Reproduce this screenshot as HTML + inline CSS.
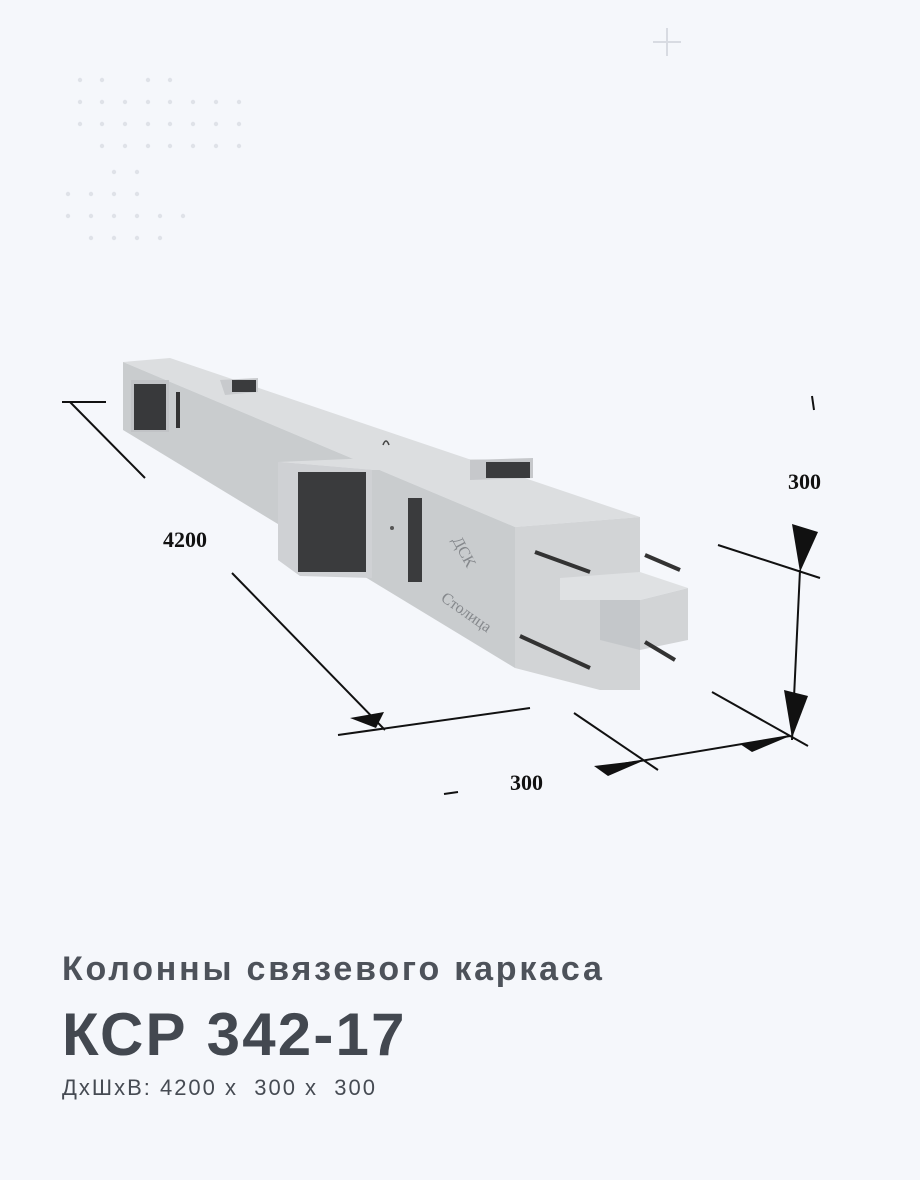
<!DOCTYPE html>
<html><head><meta charset="utf-8"><style>
html,body{margin:0;padding:0;background:#f5f7fb;}
body{width:920px;height:1180px;position:relative;overflow:hidden;font-family:"Liberation Sans",sans-serif;}
.t{position:absolute;left:62px;color:#464b53;white-space:pre;}
</style></head><body>
<svg width="920" height="1180" style="position:absolute;left:0;top:0">
<g fill="#dfe2e8">
<circle cx="80" cy="80" r="2.2"/><circle cx="102" cy="80" r="2.2"/><circle cx="148" cy="80" r="2.2"/><circle cx="170" cy="80" r="2.2"/>
<circle cx="80" cy="102" r="2.2"/><circle cx="102" cy="102" r="2.2"/><circle cx="125" cy="102" r="2.2"/><circle cx="148" cy="102" r="2.2"/><circle cx="170" cy="102" r="2.2"/><circle cx="193" cy="102" r="2.2"/><circle cx="216" cy="102" r="2.2"/><circle cx="239" cy="102" r="2.2"/>
<circle cx="80" cy="124" r="2.2"/><circle cx="102" cy="124" r="2.2"/><circle cx="125" cy="124" r="2.2"/><circle cx="148" cy="124" r="2.2"/><circle cx="170" cy="124" r="2.2"/><circle cx="193" cy="124" r="2.2"/><circle cx="216" cy="124" r="2.2"/><circle cx="239" cy="124" r="2.2"/>
<circle cx="102" cy="146" r="2.2"/><circle cx="125" cy="146" r="2.2"/><circle cx="148" cy="146" r="2.2"/><circle cx="170" cy="146" r="2.2"/><circle cx="193" cy="146" r="2.2"/><circle cx="216" cy="146" r="2.2"/><circle cx="239" cy="146" r="2.2"/>
<circle cx="114" cy="172" r="2.2"/><circle cx="137" cy="172" r="2.2"/>
<circle cx="68" cy="194" r="2.2"/><circle cx="91" cy="194" r="2.2"/><circle cx="114" cy="194" r="2.2"/><circle cx="137" cy="194" r="2.2"/>
<circle cx="68" cy="216" r="2.2"/><circle cx="91" cy="216" r="2.2"/><circle cx="114" cy="216" r="2.2"/><circle cx="137" cy="216" r="2.2"/><circle cx="160" cy="216" r="2.2"/><circle cx="183" cy="216" r="2.2"/>
<circle cx="91" cy="238" r="2.2"/><circle cx="114" cy="238" r="2.2"/><circle cx="137" cy="238" r="2.2"/><circle cx="160" cy="238" r="2.2"/>
</g>
<path d="M667 28V56M653 42H681" stroke="#d8dbe2" stroke-width="2"/>
<!-- column -->
<polygon points="123,362 170,358 640,517 515,527" fill="#dcdee0"/>
<polygon points="123,362 515,527 515,668 123,430" fill="#c9ccce"/>
<polygon points="515,527 640,517 640,600 688,588 688,640 640,650 640,690 600,690 515,668" fill="#d2d4d6"/>
<polygon points="560,578 640,572 688,588 640,600 560,600" fill="#dfe1e3"/>
<polygon points="600,600 640,600 640,650 600,640" fill="#c4c7ca"/>
<!-- left console -->
<polygon points="220,380 258,378 258,392 225,395" fill="#c8cacd"/>
<rect x="232" y="380" width="24" height="12" fill="#3a3b3d"/>
<rect x="131" y="380" width="38" height="52" fill="#c1c3c6"/>
<rect x="134" y="384" width="32" height="46" fill="#38393b"/>
<rect x="176" y="392" width="4" height="36" fill="#333"/>
<!-- middle console -->
<polygon points="278,462 372,458 530,460 470,470 372,470" fill="#dcdee0"/>
<polygon points="470,460 533,458 533,478 470,480" fill="#c6c8cb"/>
<rect x="486" y="462" width="44" height="16" fill="#3a3b3d"/>
<polygon points="278,462 372,470 372,578 300,576 278,560" fill="#cfd1d4"/>
<rect x="298" y="472" width="68" height="100" fill="#3a3b3d"/>
<rect x="408" y="498" width="14" height="84" fill="#3a3b3d"/>
<circle cx="392" cy="528" r="2" fill="#555"/>
<path d="M383 445q3-8 6 0" stroke="#444" fill="none" stroke-width="1.5"/>
<!-- rebars -->
<path d="M535 552L590 572M645 555L680 570M520 636L590 668M645 642L675 660" stroke="#333" stroke-width="4"/>
<text x="0" y="0" transform="translate(452,540) rotate(62)" font-family="Liberation Serif" font-size="16" fill="#85888c">ДСК</text>
<text x="0" y="0" transform="translate(440,600) rotate(35)" font-family="Liberation Serif" font-size="16" fill="#85888c">Столица</text>
<!-- dimensions -->
<g stroke="#111" stroke-width="2" fill="none">
<path d="M62 402H106M70 402L145 478M232 573L385 730M338 735L530 708M574 713L658 770M598 768L790 736M712 692L808 746M718 545L820 578M800 570L792 740M812 396L814 410M444 794L458 792"/>
</g>
<g fill="#111">
<polygon points="350,718 384,712 376,728"/>
<polygon points="594,766 645,760 608,776"/>
<polygon points="740,744 790,736 752,752"/>
<polygon points="792,524 818,532 800,572"/>
<polygon points="784,690 808,696 792,738"/>
</g>
<g font-family="Liberation Serif" font-weight="bold" font-size="22" fill="#111">
<text x="163" y="547">4200</text><text x="788" y="489">300</text><text x="510" y="790">300</text>
</g>
</svg>
<div class="t" style="top:950px;font-size:34px;font-weight:bold;color:#4d525a;letter-spacing:2.8px">Колонны связевого каркаса</div>
<div class="t" style="top:1000px;font-size:60px;font-weight:bold;color:#434850;letter-spacing:2.2px">КСР 342-17</div>
<div class="t" style="top:1075px;font-size:22px;letter-spacing:2px">ДхШхВ: 4200 х  300 х  300</div>
</body></html>
